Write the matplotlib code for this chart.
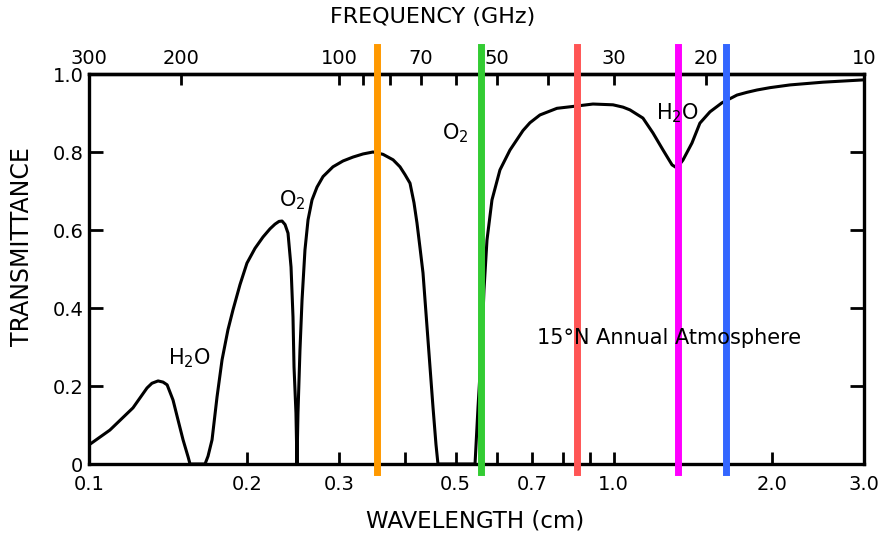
import numpy as np
import matplotlib
matplotlib.use("Agg")
import matplotlib.pyplot as plt
from matplotlib.ticker import NullFormatter, NullLocator

# ---- data ----
wavelength_cm = [0.1000, 0.1096, 0.1213, 0.1290, 0.1318, 0.1354, 0.1384, 0.1409, 0.1446, 0.1478,
                 0.1511, 0.1545, 0.1558, 0.1664, 0.1686, 0.1716, 0.1754, 0.1793, 0.1840, 0.1881,
                 0.1940, 0.2000, 0.2072, 0.2146, 0.2213, 0.2262, 0.2302, 0.2333, 0.2364, 0.2395,
                 0.2427, 0.2448, 0.2459, 0.2480, 0.2491, 0.2502, 0.2524, 0.2547, 0.2580, 0.2615,
                 0.2661, 0.2720, 0.2793, 0.2917, 0.3049, 0.3185, 0.3329, 0.3478, 0.3634, 0.3798,
                 0.3915, 0.4002, 0.4091, 0.4163, 0.4218, 0.4274, 0.4331, 0.4427, 0.4525, 0.4585,
                 0.4625, 0.5442, 0.5514, 0.5611, 0.5660, 0.5735, 0.5862, 0.6071, 0.6344, 0.6717,
                 0.6925, 0.7236, 0.7796, 0.8513, 0.9131, 0.9969, 1.042, 1.074, 1.137, 1.188,
                 1.242, 1.292, 1.320, 1.355, 1.410, 1.460, 1.526, 1.608, 1.718, 1.795,
                 1.876, 1.986, 2.168, 2.505, 3.000]
transmittance = [0.049, 0.087, 0.144, 0.195, 0.207, 0.213, 0.210, 0.203, 0.164, 0.113,
                 0.062, 0.018, 0.0, 0.0, 0.020, 0.062, 0.172, 0.267, 0.344, 0.395,
                 0.460, 0.515, 0.553, 0.582, 0.603, 0.615, 0.622, 0.623, 0.614, 0.592,
                 0.505, 0.377, 0.249, 0.131, 0.0, 0.130, 0.292, 0.420, 0.549, 0.626,
                 0.677, 0.710, 0.737, 0.762, 0.777, 0.787, 0.795, 0.800, 0.794, 0.780,
                 0.762, 0.742, 0.720, 0.670, 0.618, 0.555, 0.490, 0.318, 0.146, 0.050,
                 0.0, 0.0, 0.146, 0.318, 0.446, 0.574, 0.677, 0.754, 0.805, 0.855,
                 0.875, 0.895, 0.912, 0.918, 0.923, 0.921, 0.915, 0.908, 0.887, 0.849,
                 0.805, 0.767, 0.759, 0.779, 0.823, 0.874, 0.903, 0.926, 0.946, 0.953,
                 0.959, 0.965, 0.972, 0.979, 0.985]

channel_wavelength_cm = [0.354, 0.558, 0.851, 1.326, 1.637]
channel_colors = ["#FF9900", "#33CC33", "#FF5555", "#FF00FF", "#3366FF"]

x_major_ticks = [0.1, 0.2, 0.3, 0.5, 0.7, 1.0, 2.0, 3.0]
x_major_labels = ["0.1", "0.2", "0.3", "0.5", "0.7", "1.0", "2.0", "3.0"]
x_minor_ticks = [0.4, 0.6, 0.8, 0.9]
y_ticks = [0, 0.2, 0.4, 0.6, 0.8, 1.0]
y_labels = ["0", "0.2", "0.4", "0.6", "0.8", "1.0"]
freq_ticks_ghz = [300, 200, 100, 90, 80, 70, 60, 50, 40, 30, 20, 10]
freq_labels = ["300", "200", "100", "", "", "70", "", "50", "", "30", "20", "10"]

# ---- figure ----
W, H = 885, 537
fig = plt.figure(figsize=(W / 100, H / 100), dpi=100)
L, R, T, B = 89, 864, 74, 464
ax = fig.add_axes([L / W, 1 - B / H, (R - L) / W, (B - T) / H])

ax.set_xscale("log")
ax.set_xlim(0.1, 3.0)
ax.set_ylim(0, 1.0)

ax.plot(wavelength_cm, transmittance, color="black", lw=2.2,
        solid_joinstyle="round", solid_capstyle="round", zorder=3)

for wl, c in zip(channel_wavelength_cm, channel_colors):
    ax.axvline(wl, ymin=-0.02, ymax=1.07, color=c, lw=5, clip_on=False, zorder=6)

ax.set_xticks(x_major_ticks)
ax.set_xticklabels(x_major_labels)
ax.set_xticks(x_minor_ticks, minor=True)
ax.xaxis.set_minor_formatter(NullFormatter())
ax.set_yticks(y_ticks)
ax.set_yticklabels(y_labels)

ax.tick_params(axis="both", which="both", direction="in", width=2, labelsize=14,
               top=False, right=True, labelright=False)
ax.tick_params(axis="y", length=10, pad=4)
ax.tick_params(axis="x", which="both", length=9, pad=8)

for s in ax.spines.values():
    s.set_linewidth(2.4)


def wl_to_ghz(x):
    x = np.asarray(x, dtype=float)
    with np.errstate(divide="ignore"):
        return 30.0 / x


secax = ax.secondary_xaxis("top", functions=(wl_to_ghz, wl_to_ghz))
secax.set_xticks(freq_ticks_ghz)
secax.set_xticklabels(freq_labels)
secax.xaxis.set_minor_locator(NullLocator())
secax.tick_params(direction="in", length=8, width=2, labelsize=14, pad=4)
secax.spines["top"].set_linewidth(2.4)

fig.text(433 / W, 1 - 17 / H, "FREQUENCY (GHz)", ha="center", va="center", fontsize=16)
fig.text(475 / W, 1 - 521 / H, "WAVELENGTH (cm)", ha="center", va="center", fontsize=16.5)
fig.text(22 / W, 1 - 247 / H, "TRANSMITTANCE", ha="center", va="center", rotation=90, fontsize=17)

fig.text(190 / W, 1 - 358 / H, "H$_2$O", ha="center", va="center", fontsize=15)
fig.text(292 / W, 1 - 200 / H, "O$_2$", ha="center", va="center", fontsize=15)
fig.text(455 / W, 1 - 133 / H, "O$_2$", ha="center", va="center", fontsize=15)
fig.text(678 / W, 1 - 113 / H, "H$_2$O", ha="center", va="center", fontsize=15)
fig.text(669 / W, 1 - 338 / H, "15°N Annual Atmosphere", ha="center", va="center", fontsize=15)

fig.savefig("out.png", dpi=100)
